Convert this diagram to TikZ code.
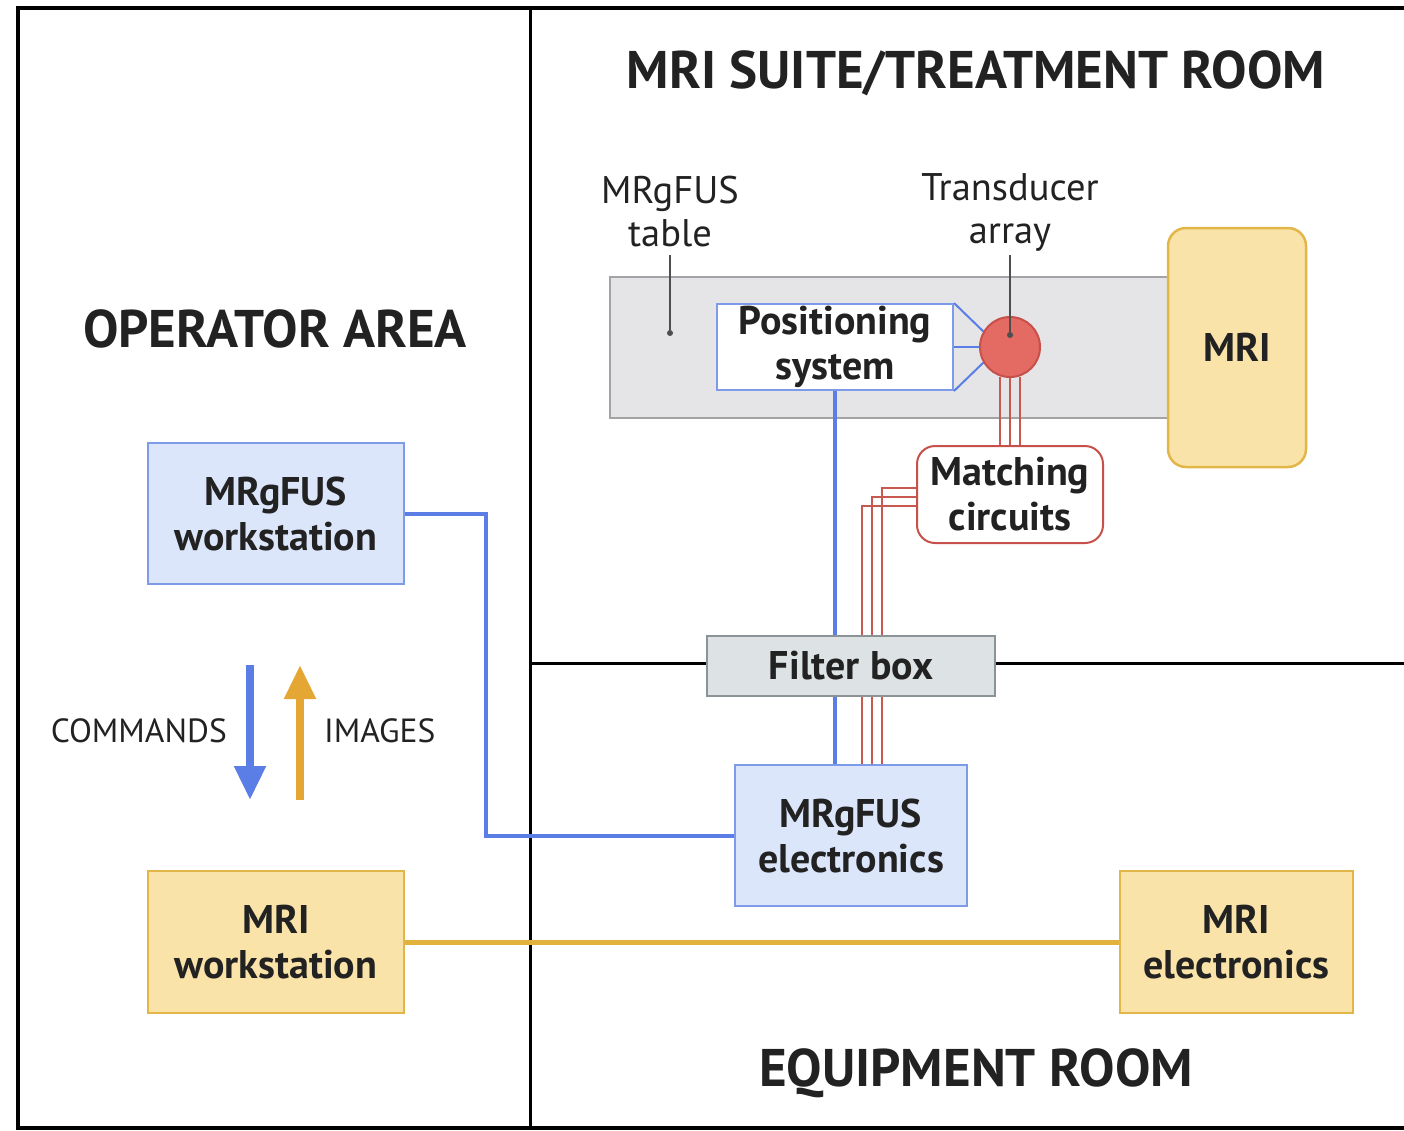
\documentclass[tikz,border=0pt]{standalone}
\usepackage{fontspec}
\setmainfont{PT Sans}
\usetikzlibrary{arrows.meta,positioning}

\definecolor{fusline}{HTML}{5B7EE6}
\definecolor{fusedge}{HTML}{7E9BEA}
\definecolor{fusfill}{HTML}{DCE6FB}
\definecolor{mriline}{HTML}{E2B23C}
\definecolor{mriedge}{HTML}{E3B64A}
\definecolor{mrifill}{HTML}{F9E3A8}
\definecolor{imgarrow}{HTML}{E4A733}
\definecolor{tdfill}{HTML}{E36B63}
\definecolor{tdedge}{HTML}{C8504A}
\definecolor{rfline}{HTML}{C9584F}
\definecolor{tablefill}{HTML}{E5E5E7}
\definecolor{tableedge}{HTML}{A3A3A5}
\definecolor{filterfill}{HTML}{DDE2E4}
\definecolor{filteredge}{HTML}{8B9396}
\definecolor{inkgray}{HTML}{222222}

\newcommand{\roomfont}{\fontsize{53}{58}\selectfont\bfseries}
\newcommand{\boxfont}{\fontsize{40}{45}\selectfont\bfseries}
\newcommand{\notefont}{\fontsize{38.5}{43}\selectfont}
\newcommand{\legendfont}{\fontsize{33.5}{38}\selectfont}

\tikzset{
  roomtitle/.style={font=\roomfont, text=inkgray},
  fusbox/.style={draw=fusedge, fill=fusfill, line width=2.5pt, align=center,
    font=\boxfont, text=inkgray, inner sep=0pt},
  mribox/.style={draw=mriedge, fill=mrifill, line width=2.5pt, align=center,
    font=\boxfont, text=inkgray, inner sep=0pt},
  note/.style={font=\notefont, align=center, text=inkgray, inner sep=0pt},
  leader/.style={draw=inkgray!80, line width=1.2pt},
  rfwire/.style={draw=rfline, line width=2.2pt},
}

\begin{document}
\begin{tikzpicture}[x=1pt,y=-1pt]
  \pgfmathsetmacro{\FrameW}{4}
  \pgfmathsetmacro{\WireW}{4}
  \useasboundingbox (0,0) rectangle (1404,1130);

  % rooms
  \draw[line width=\FrameW pt] (1404,8) -- (18,8) -- (18,1128) -- (1404,1128);
  \draw[line width=3pt] (530,8) -- (530,1128);
  \draw[line width=3pt] (530,663) -- (1404,663);

  \node[roomtitle] (suite) at (976,73) {MRI SUITE/TREATMENT ROOM};
  \node[roomtitle] (oper) at (275,329) {OPERATOR AREA};
  \node[roomtitle] (equip) at (976,1073) {EQUIPMENT ROOM};

  % treatment room
  \node[draw=tableedge, fill=tablefill, line width=1.5pt, minimum width=565pt,
    minimum height=141pt, inner sep=0pt] (table) at (892.5,347.5) {};
  \node[mribox, rounded corners=18pt, minimum width=138pt, minimum height=239pt]
    (mri) at (1237,347.5) {MRI};
  \node[fusbox, fill=white, line width=2pt, minimum width=236pt, minimum height=86pt]
    (pos) at (835,347) {Positioning\\system};
  \node[circle, minimum size=60pt, inner sep=0pt] (td) at (1010,347) {};
  \node[draw=tdedge, fill=white, line width=2pt, rounded corners=18pt,
    minimum width=186pt, minimum height=97pt, align=center, font=\boxfont,
    text=inkgray, inner sep=0pt] (match) at (1010,494.5) {Matching\\circuits};

  \draw[fusline, line width=2pt] (pos.north east) -- (td.150);
  \draw[fusline, line width=2pt] (pos.east) -- (td.west);
  \draw[fusline, line width=2pt] (pos.south east) -- (td.210);

  % equipment room
  \node[fusbox, minimum width=232pt, minimum height=141pt]
    (elec) at (851,835.5) {MRgFUS\\electronics};
  \node[mribox, minimum width=233pt, minimum height=142pt]
    (mriel) at (1236.5,942) {MRI\\electronics};

  \foreach \dx in {-10,0,10}
    \draw[rfwire] ([xshift=\dx pt]td.south) -- ([xshift=\dx pt]td.south |- match.north);
  \foreach \dy/\dx in {6.5/31,-2.5/21,-11.5/11}
    \draw[rfwire] ([yshift=\dy pt]match.west) -| ([xshift=\dx pt]elec.north);
  \draw[fusline, line width=\WireW pt] (pos.south) -- (pos.south |- elec.north);
  \fill[tdfill, draw=tdedge, line width=2pt] (td) circle (30pt);

  % labels with leaders
  \node[note] (tablelbl) at (670,212) {MRgFUS\\table};
  \node[note] (tdlbl) at (1010,212) {Transducer\\array};
  \coordinate (tabledot) at (670,333);
  \coordinate (tddot) at (1010,335);
  \draw[leader] (tablelbl.south |- 0,255) -- (tabledot);
  \draw[leader] (tdlbl.south |- 0,255) -- (tddot);
  \fill[inkgray!80] (tabledot) circle (3pt);
  \fill[inkgray!80] (tddot) circle (3pt);

  \node[draw=filteredge, fill=filterfill, line width=2pt, minimum width=288pt,
    minimum height=60pt, font=\boxfont, text=inkgray, inner sep=0pt]
    (filter) at (851,666) {Filter box};

  % operator area
  \node[fusbox, minimum width=256pt, minimum height=141pt]
    (fusws) at (276,513.5) {MRgFUS\\workstation};
  \node[mribox, minimum width=256pt, minimum height=142pt]
    (mriws) at (276,942) {MRI\\workstation};

  \draw[fusline, line width=\WireW pt] (fusws.east) -- ++(81,0) |- (elec.west);
  \draw[mriline, line width=5pt] (mriws.east) -- (mriel.west);

  % legend
  \coordinate (cmdtop) at (250,665);
  \coordinate (cmdend) at (250,800);
  \coordinate (imgtop) at (300,665);
  \coordinate (imgend) at (300,800);
  \draw[fusline, line width=8pt, -{Triangle[width=30pt,length=34pt]}] (cmdtop) -- (cmdend);
  \draw[imgarrow, line width=8pt, -{Triangle[width=30pt,length=34pt]}] (imgend) -- (imgtop);
  \node[font=\legendfont, text=inkgray, anchor=east, inner sep=0pt]
    (cmdlbl) at (227,731) {COMMANDS};
  \node[font=\legendfont, text=inkgray, anchor=west, inner sep=0pt]
    (imglbl) at (324,731) {IMAGES};
\end{tikzpicture}
\end{document}
